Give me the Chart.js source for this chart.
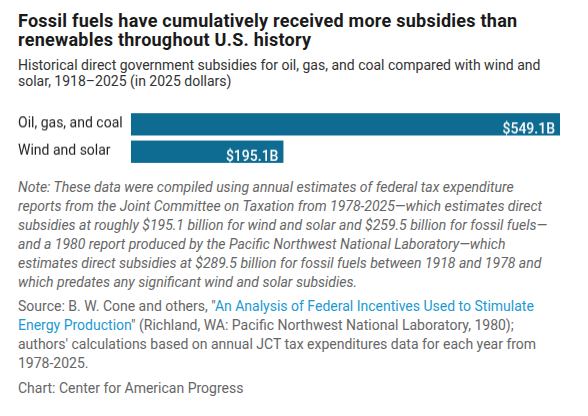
<!DOCTYPE html>
<html>
<head>
<meta charset="utf-8">
<script src="https://cdn.jsdelivr.net/npm/chart.js@4.4.1/dist/chart.umd.min.js"></script>
<style>
  html, body { margin: 0; padding: 0; background: #fff; }
  body { width: 588px; height: 416px; position: relative; overflow: hidden; font-family: Roboto, sans-serif; }
  .blk { position: absolute; left: 18px; white-space: nowrap; }
  #title { top: 10.7px; font-size: 18px; line-height: 19px; letter-spacing: 0.25px; font-weight: 700; color: #1a1a1a; }
  #subtitle { top: 57px; font-size: 14px; line-height: 16px; color: #333; }
  #note { top: 178.4px; font-size: 14px; line-height: 19px; font-style: italic; color: #666; }
  #source { top: 297.4px; font-size: 14px; line-height: 19px; color: #666; }
  #source a { color: #1b9ad2; text-decoration: none; }
  #credit { top: 378.7px; font-size: 14px; line-height: 19px; color: #666; }
  /* tick labels add 8.4px of padding above and below the chart area */
  #wrap { position: absolute; left: 0; top: 102.1px; width: 588px; height: 70.8px; }
</style>
</head>
<body>
<div id="title" class="blk">Fossil fuels have cumulatively received more subsidies than<br>renewables throughout U.S. history</div>
<div id="subtitle" class="blk">Historical direct government subsidies for oil, gas, and coal compared with wind and<br>solar, 1918–2025 (in 2025 dollars)</div>
<div id="wrap"><canvas id="chart"></canvas></div>
<div id="note" class="blk">Note: These data were compiled using annual estimates of federal tax expenditure<br>reports from the Joint Committee on Taxation from 1978-2025—which estimates direct<br>subsidies at roughly $195.1 billion for wind and solar and $259.5 billion for fossil fuels—<br>and a 1980 report produced by the Pacific Northwest National Laboratory—which<br>estimates direct subsidies at $289.5 billion for fossil fuels between 1918 and 1978 and<br>which predates any significant wind and solar subsidies.</div>
<div id="source" class="blk">Source: B. W. Cone and others, "<a href="#">An Analysis of Federal Incentives Used to Stimulate<br>Energy Production</a>" (Richland, WA: Pacific Northwest National Laboratory, 1980);<br>authors' calculations based on annual JCT tax expenditures data for each year from<br>1978-2025.</div>
<div id="credit" class="blk">Chart: Center for American Progress</div>

<script>
// Data
const categories = ['Oil, gas, and coal', 'Wind and solar'];
const subsidies = [549.1, 195.1]; // billions, 2025 dollars

// Value labels drawn inside the end of each bar
const valueLabels = {
  id: 'valueLabels',
  afterDatasetsDraw(chart) {
    const ctx = chart.ctx;
    const meta = chart.getDatasetMeta(0);
    ctx.save();
    ctx.fillStyle = '#fff';
    ctx.font = '500 14px Roboto';
    ctx.textAlign = 'right';
    ctx.textBaseline = 'alphabetic';
    meta.data.forEach((bar, i) => {
      const txt = '$' + subsidies[i].toFixed(1) + 'B';
      const bottom = bar.y + bar.height / 2;
      ctx.fillText(txt, bar.x - 5, bottom - 1.6);
    });
    ctx.restore();
  }
};

new Chart(document.getElementById('chart'), {
  type: 'bar',
  data: {
    labels: categories,
    datasets: [{
      data: subsidies,
      backgroundColor: '#0e6b92',
      borderWidth: 0,
      categoryPercentage: 1,
      barPercentage: 0.815
    }]
  },
  plugins: [valueLabels],
  options: {
    indexAxis: 'y',
    responsive: true,
    maintainAspectRatio: false,
    animation: false,
    layout: {
      padding: { left: 18, right: 28, top: 0, bottom: 0 }
    },
    plugins: {
      legend: { display: false },
      tooltip: { enabled: false }
    },
    scales: {
      x: {
        min: 0,
        max: 549.1,
        display: false
      },
      y: {
        grid: { display: false, drawTicks: false },
        border: { display: false },
        afterFit(scale) { scale.width = 113; },
        ticks: {
          crossAlign: 'far',
          padding: 0,
          color: '#222',
          font: { family: 'Roboto', size: 14 }
        }
      }
    }
  }
});
</script>
</body>
</html>
